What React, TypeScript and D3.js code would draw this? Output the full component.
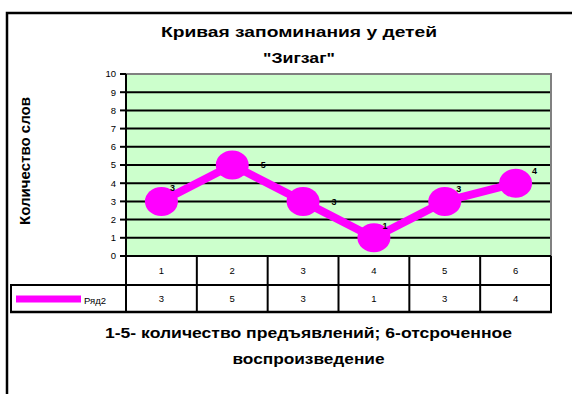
import React from "react";
import * as d3 from "d3";

const categories = ["1", "2", "3", "4", "5", "6"];
const values = [3, 5, 3, 1, 3, 4];
const seriesName = "Ряд2";
const yTicks = [0, 1, 2, 3, 4, 5, 6, 7, 8, 9, 10];
const titleLines = ["Кривая запоминания у детей", "\"Зигзаг\""];
const yTitle = "Количество слов";
const footLines = ["1-5- количество предъявлений; 6-отсроченное", "воспроизведение"];
// label nudges (style) relative to markers
const labelDx = [11, 31, 31, 11, 14, 19];
const labelDy = [-14, 0, 0, -12, -13, -12];
// rendered text widths (style)
const titleWidths = [276, 72];
const footWidths = [407, 152];

const W = 572;
const H = 394;
const font = "Arial, 'Liberation Sans', sans-serif";
const MAGENTA = "#FF00FF";

export default function App() {
  const plotL = 126, plotR = 551, plotT = 74, plotB = 256;
  const row1B = 285, row2B = 312, legendL = 10;
  const y = d3.scaleLinear().domain([0, 10]).range([plotB, plotT]);
  const x = d3.scaleBand<string>().domain(categories).range([plotL, plotR]);
  const cx = (c: string) => (x(c) as number) + x.bandwidth() / 2;
  const line = d3
    .line<number>()
    .x((_, i) => cx(categories[i]))
    .y((d) => y(d));

  return (
    <div style={{ position: "absolute", left: 0, top: 0 }}>
      <svg width={W} height={H} style={{ display: "block", background: "#fff" }} fontFamily={font}>
        {/* outer frame */}
        <path d={`M7,${H} L7,13 L${W},13`} fill="none" stroke="#000" strokeWidth={2.5} />

        {/* title */}
        {titleLines.map((t, i) => (
          <text
            key={i}
            x={299}
            y={37 + i * 26}
            textAnchor="middle"
            fontSize={15}
            fontWeight="bold"
            fill="#000"
            textLength={titleWidths[i]}
            lengthAdjust="spacingAndGlyphs"
          >
            {t}
          </text>
        ))}

        {/* plot area */}
        <rect x={plotL} y={plotT} width={plotR - plotL} height={plotB - plotT} fill="#CCFFCC" />
        {yTicks.filter((t) => t > 0 && t < 10).map((t) => (
          <line key={t} x1={plotL} x2={plotR} y1={y(t)} y2={y(t)} stroke="#000" strokeWidth={2} />
        ))}
        <line x1={plotL} x2={plotR + 1} y1={plotT} y2={plotT} stroke="#808080" strokeWidth={2} />
        <line x1={plotR} x2={plotR} y1={plotT} y2={plotB} stroke="#808080" strokeWidth={2} />

        {/* y axis */}
        <line x1={plotL} x2={plotL} y1={plotT} y2={row2B} stroke="#000" strokeWidth={2} />
        {yTicks.map((t) => (
          <g key={t}>
            <line x1={plotL - 6} x2={plotL} y1={y(t)} y2={y(t)} stroke="#000" strokeWidth={2} />
            <text x={plotL - 10} y={y(t)} dy="0.35em" textAnchor="end" fontSize={9.5} fill="#000">
              {t}
            </text>
          </g>
        ))}
        <text
          transform={`translate(30,${161}) rotate(-90)`}
          textAnchor="middle"
          fontSize={14}
          fontWeight="bold"
          fill="#000"
          textLength={128}
          lengthAdjust="spacingAndGlyphs"
        >
          {yTitle}
        </text>

        {/* data table */}
        <line x1={plotL} x2={plotR} y1={plotB} y2={plotB} stroke="#000" strokeWidth={2} />
        <line x1={legendL} x2={plotR + 1} y1={row1B} y2={row1B} stroke="#000" strokeWidth={2} />
        <line x1={legendL} x2={plotR + 1} y1={row2B} y2={row2B} stroke="#000" strokeWidth={2.5} />
        <line x1={legendL + 1} x2={legendL + 1} y1={row1B} y2={row2B} stroke="#000" strokeWidth={2} />
        {categories.map((c, i) => (
          <g key={c}>
            <line
              x1={(x(c) as number) + x.bandwidth()}
              x2={(x(c) as number) + x.bandwidth()}
              y1={plotB}
              y2={row2B}
              stroke="#000"
              strokeWidth={2}
            />
            <text x={cx(c)} y={(plotB + row1B) / 2} dy="0.35em" textAnchor="middle" fontSize={9.5} fill="#000">
              {c}
            </text>
            <text x={cx(c)} y={(row1B + row2B) / 2} dy="0.35em" textAnchor="middle" fontSize={9.5} fill="#000">
              {values[i]}
            </text>
          </g>
        ))}
        {/* legend key */}
        <line x1={16} x2={81} y1={299} y2={299} stroke={MAGENTA} strokeWidth={7} />
        <text x={84} y={304} fontSize={9.5} fill="#000">
          {seriesName}
        </text>

        {/* series */}
        <path d={line(values) || ""} fill="none" stroke={MAGENTA} strokeWidth={8} strokeLinejoin="round" />
        {values.map((v, i) => (
          <ellipse key={i} cx={cx(categories[i])} cy={y(v)} rx={16.5} ry={14.5} fill={MAGENTA} />
        ))}
        {values.map((v, i) => (
          <text
            key={i}
            x={cx(categories[i]) + labelDx[i]}
            y={y(v) + labelDy[i]}
            dy="0.35em"
            textAnchor="middle"
            fontSize={9}
            fontWeight="bold"
            fill="#000"
          >
            {v}
          </text>
        ))}

        {/* footnote */}
        {footLines.map((t, i) => (
          <text
            key={i}
            x={308.5}
            y={338 + i * 26}
            textAnchor="middle"
            fontSize={15}
            fontWeight="bold"
            fill="#000"
            textLength={footWidths[i]}
            lengthAdjust="spacingAndGlyphs"
          >
            {t}
          </text>
        ))}
      </svg>
    </div>
  );
}
